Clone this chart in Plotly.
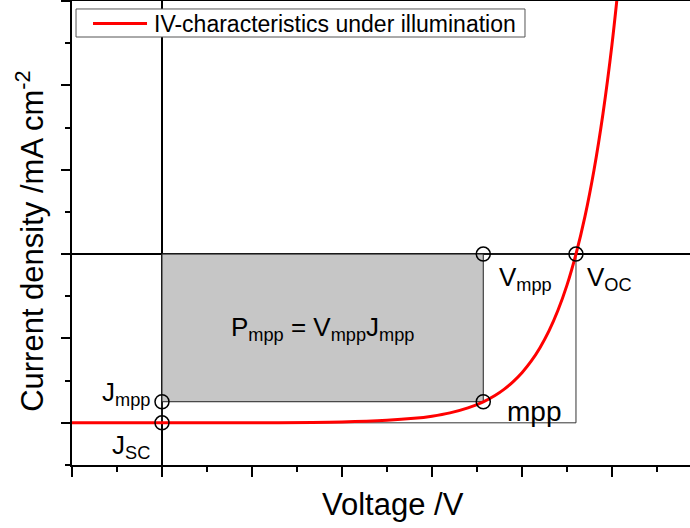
import plotly.graph_objects as go

# Illuminated J-V curve of a solar cell (voltage in V, current density in mA cm^-2)
voltage = [-0.10, 0.00, 0.10, 0.20, 0.25, 0.28, 0.30, 0.32, 0.34, 0.357, 0.37,
           0.38, 0.39, 0.40, 0.41, 0.42, 0.43, 0.44, 0.45, 0.46, 0.47, 0.48,
           0.49, 0.50, 0.51]
current = [-20.00, -20.00, -19.99, -19.90, -19.71, -19.47, -19.21, -18.82,
           -18.23, -17.51, -16.76, -16.03, -15.14, -14.06, -12.73, -11.09,
           -9.10, -6.66, -3.68, 0.00, 4.47, 9.94, 16.64, 24.83, 34.85]

# Characteristic points
J_SC = -20.0
V_OC = 0.46
V_MPP = 0.357
J_MPP = -17.5

SERIES_NAME = "IV-characteristics under illumination"

X_RANGE = [-0.1, 0.5867]
Y_RANGE = [-25, 30]

FONT = "Arial, Liberation Sans, sans-serif"

fig = go.Figure()

# J-V curve
fig.add_trace(go.Scatter(
    x=voltage, y=current, mode="lines", line_shape="spline",
    line=dict(color="#ff0000", width=3),
    name=SERIES_NAME, showlegend=False,
))

# Open circles at the characteristic points
fig.add_trace(go.Scatter(
    x=[V_MPP, V_OC, 0, 0, V_MPP],
    y=[0, 0, J_MPP, J_SC, J_MPP],
    mode="markers",
    marker=dict(symbol="circle-open", size=14, color="black",
                line=dict(width=1.5)),
    showlegend=False, hoverinfo="skip",
))

shapes = [
    # Jsc x Voc rectangle
    dict(type="rect", xref="x", yref="y", x0=0, x1=V_OC, y0=J_SC, y1=0,
         line=dict(color="#333333", width=1), fillcolor="rgba(0,0,0,0)",
         layer="below"),
    # maximum power rectangle
    dict(type="rect", xref="x", yref="y", x0=0, x1=V_MPP, y0=J_MPP, y1=0,
         line=dict(color="#222222", width=1), fillcolor="#c6c6c6",
         layer="below"),
    # J = 0 line
    dict(type="line", xref="paper", yref="y", x0=0, x1=1, y0=0, y1=0,
         line=dict(color="black", width=2), layer="below"),
    # V = 0 line
    dict(type="line", xref="x", yref="paper", x0=0, x1=0, y0=0, y1=1,
         line=dict(color="black", width=2), layer="below"),
    # legend frame and line sample
    dict(type="rect", xref="paper", yref="paper", x0=0.0065, x1=0.733,
         y0=0.9224, y1=0.9828, line=dict(color="#555555", width=1),
         fillcolor="white", layer="above"),
    dict(type="line", xref="paper", yref="paper", x0=0.034, x1=0.1214,
         y0=0.9515, y1=0.9515, line=dict(color="#ff0000", width=3),
         layer="above"),
]

lab = dict(size=26, color="black", family=FONT)
annotations = [
    dict(x=V_MPP / 2, y=-8.8, xref="x", yref="y",
         text="P<sub>mpp</sub> = V<sub>mpp</sub>J<sub>mpp</sub>",
         showarrow=False, xanchor="center", yanchor="middle", font=lab),
    dict(x=0.372, y=-2.9, xref="x", yref="y", text="V<sub>mpp</sub>",
         showarrow=False, xanchor="left", yanchor="middle", font=lab),
    dict(x=0.470, y=-2.9, xref="x", yref="y", text="V<sub>OC</sub>",
         showarrow=False, xanchor="left", yanchor="middle", font=lab),
    dict(x=0.381, y=-18.7, xref="x", yref="y", text="mpp",
         showarrow=False, xanchor="left", yanchor="middle",
         font=dict(size=28, color="black", family=FONT)),
    dict(x=-0.011, y=-16.5, xref="x", yref="y", text="J<sub>mpp</sub>",
         showarrow=False, xanchor="right", yanchor="middle", font=lab),
    dict(x=-0.011, y=-22.8, xref="x", yref="y", text="J<sub>SC</sub>",
         showarrow=False, xanchor="right", yanchor="middle", font=lab),
    # legend entry
    dict(x=0.1294, y=0.9515, xref="paper", yref="paper", text=SERIES_NAME,
         showarrow=False, xanchor="left", yanchor="middle",
         font=dict(size=23, color="black", family=FONT)),
    # axis titles
    dict(x=0.519, y=-0.086, xref="paper", yref="paper", text="Voltage /V",
         showarrow=False, xanchor="center", yanchor="middle",
         font=dict(size=31, color="black", family=FONT)),
    dict(x=-0.068, y=0.483, xref="paper", yref="paper",
         text="Current density /mA cm<sup>-2</sup>", textangle=-90,
         showarrow=False, xanchor="center", yanchor="middle",
         font=dict(size=31, color="black", family=FONT)),
]

fig.update_layout(
    width=690, height=528,
    margin=dict(l=72, r=0, t=1, b=63),
    paper_bgcolor="white", plot_bgcolor="white",
    font=dict(family=FONT, color="black"),
    shapes=shapes, annotations=annotations,
    showlegend=False,
    xaxis=dict(range=X_RANGE, showgrid=False, zeroline=False,
               showline=True, linecolor="black", linewidth=2, mirror=True,
               ticks="outside", tick0=0, dtick=0.1, ticklen=10,
               tickwidth=1.5, tickcolor="black", showticklabels=False,
               minor=dict(ticks="outside", dtick=0.05, ticklen=5,
                          tickwidth=1.5, tickcolor="black")),
    yaxis=dict(range=Y_RANGE, showgrid=False, zeroline=False,
               showline=True, linecolor="black", linewidth=2, mirror=False,
               ticks="outside", tick0=0, dtick=10, ticklen=9,
               tickwidth=1.5, tickcolor="black", showticklabels=False,
               minor=dict(ticks="outside", dtick=5, ticklen=5,
                          tickwidth=1.5, tickcolor="black")),
)

fig.write_html("out.html")
